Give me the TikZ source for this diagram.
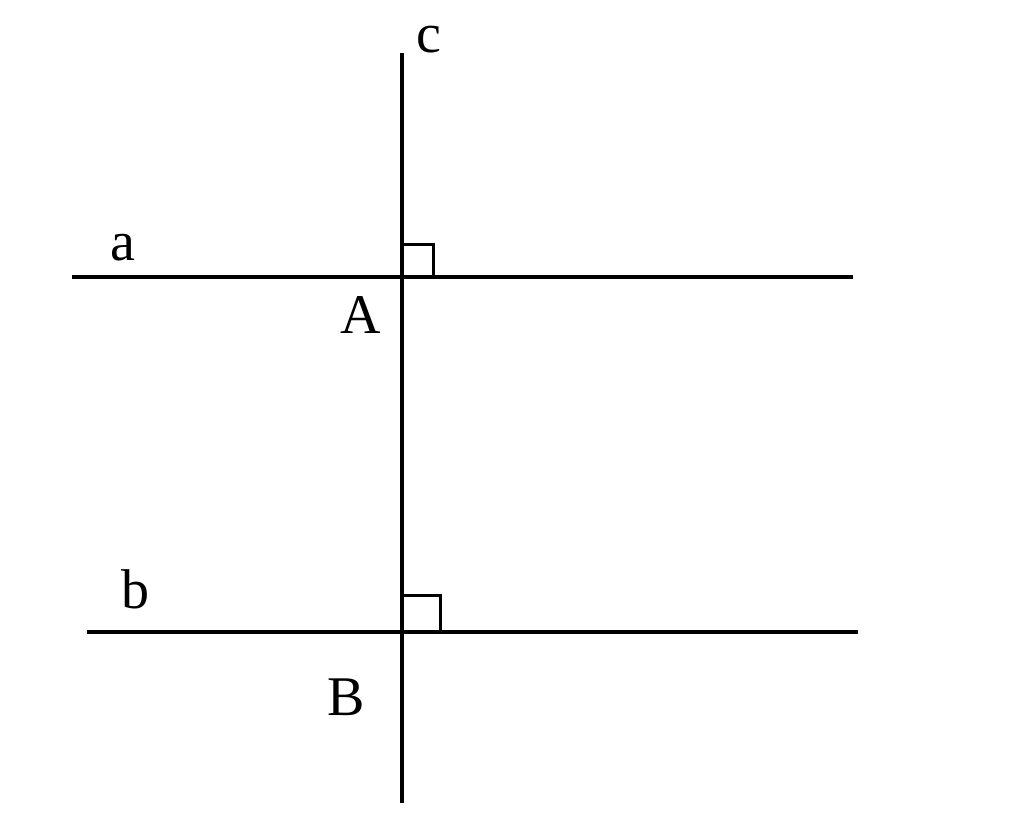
\documentclass[tikz,border=0pt]{standalone}
\usepackage{fontspec}
\setmainfont{Liberation Serif}
\begin{document}
\begin{tikzpicture}[x=1pt,y=-1pt,
  ln/.style={line width=3.2pt,black},
  mk/.style={line width=3pt,black},
  lbl/.style={inner sep=0pt,anchor=base,font=\fontsize{56}{56}\selectfont}]
\useasboundingbox (0,0) rectangle (1024,824);
\fill[white] (0,0) rectangle (1024,824);
\coordinate (a1) at (72,277);
\coordinate (a2) at (853,277);
\coordinate (b1) at (87,632);
\coordinate (b2) at (858,632);
\coordinate (c1) at (402,53);
\coordinate (c2) at (402,803);
\coordinate (A) at (402,277);
\coordinate (B) at (402,632);
\draw[ln] (a1) -- (a2);
\draw[ln] (b1) -- (b2);
\draw[ln] (c1) -- (c2);
\draw[mk] (A) ++(0,-33) -- ++(31,0) -- ++(0,33);
\draw[mk] (B) ++(0,-37) -- ++(38,0) -- ++(0,37);
\node[lbl] (lc) at (429,53) {c};
\node[lbl] (la) at (123,260) {a};
\node[lbl] (lb) at (135,608) {b};
\node[lbl] (lA) at (361,333) {A};
\node[lbl] (lB) at (346,715) {B};
\end{tikzpicture}
\end{document}
